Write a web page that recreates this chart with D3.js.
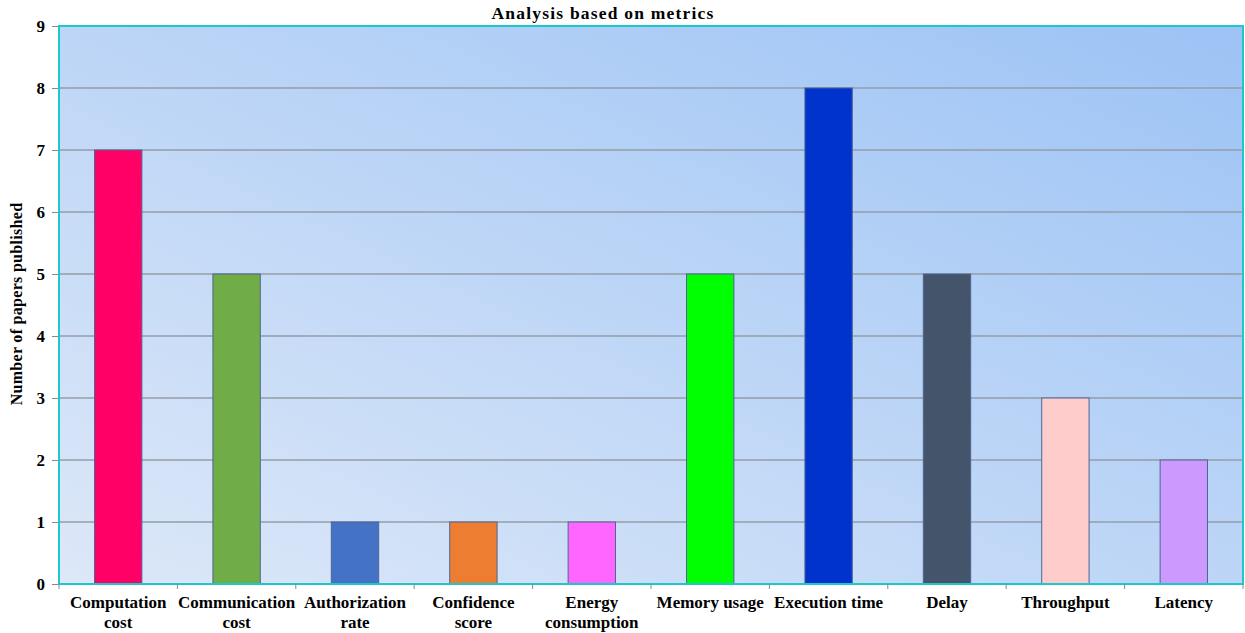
<!DOCTYPE html>
<html lang="en">
<head>
<meta charset="UTF-8" />
<title>Analysis based on metrics</title>
<script src="https://d3js.org/d3.v7.min.js"></script>
<style>
  body { margin: 0; background: #fff; }
  text { font-family: "Liberation Serif", "Times New Roman", serif; font-weight: bold; fill: #000; }
</style>
</head>
<body>
<script>
var categories = [["Computation", "cost"], ["Communication", "cost"], ["Authorization", "rate"],
  ["Confidence", "score"], ["Energy", "consumption"], ["Memory usage"], ["Execution time"],
  ["Delay"], ["Throughput"], ["Latency"]];
var papers = [7, 5, 1, 1, 1, 5, 8, 5, 3, 2];
var barColors = ["#ff0066", "#70ad47", "#4472c4", "#ed7d31", "#ff66ff", "#00ff00",
  "#0033cc", "#44546a", "#ffcccc", "#cc99ff"];
var yTicks = [0, 1, 2, 3, 4, 5, 6, 7, 8, 9];

var W = 1245, H = 633;
var pL = 59, pR = 1243, pT = 26, pB = 584;

var svg = d3.select("body").append("svg").attr("width", W).attr("height", H);

var defs = svg.append("defs");
var grad = defs.append("linearGradient").attr("id", "bg")
  .attr("x1", "0%").attr("y1", "100%").attr("x2", "100%").attr("y2", "0%");
grad.append("stop").attr("offset", "0%").attr("stop-color", "#dde8f8");
grad.append("stop").attr("offset", "100%").attr("stop-color", "#9cc3f5");

var xb = d3.scaleBand().domain(d3.range(categories.length)).range([pL, pR]);
var y = d3.scaleLinear().domain([0, 9]).range([pB, pT]);

svg.append("rect").attr("x", pL).attr("y", pT).attr("width", pR - pL).attr("height", pB - pT)
  .attr("fill", "url(#bg)");

// gridlines
svg.append("g").selectAll("line").data(yTicks.filter(function(d){ return d > 0 && d < 9; })).enter()
  .append("line").attr("x1", pL).attr("x2", pR)
  .attr("y1", function(d){ return y(d); }).attr("y2", function(d){ return y(d); })
  .attr("stroke", "#959ca8").attr("stroke-width", 1.5);

// bars
svg.append("g").selectAll("rect").data(papers).enter().append("rect")
  .attr("x", function(d, i){ return xb(i) + xb.bandwidth() * 0.3; })
  .attr("width", xb.bandwidth() * 0.4)
  .attr("y", function(d){ return y(d); })
  .attr("height", function(d){ return pB - y(d); })
  .attr("fill", function(d, i){ return barColors[i]; })
  .attr("stroke", "#4d6595").attr("stroke-width", 1);

// border
svg.append("rect").attr("x", pL).attr("y", pT).attr("width", pR - pL).attr("height", pB - pT)
  .attr("fill", "none").attr("stroke", "#1cc8cc").attr("stroke-width", 2);

// y axis
var yAxis = svg.append("g").attr("transform", "translate(" + (pL - 1) + ",0)")
  .call(d3.axisLeft(y).tickValues(yTicks).tickFormat(d3.format("d")).tickSize(6).tickPadding(7));
yAxis.select(".domain").remove();
yAxis.selectAll(".tick line").attr("stroke", "#888");
yAxis.selectAll("text").style("font-size", "17px").style("font-family", "Liberation Serif").style("font-weight", "bold");

// x axis ticks at band boundaries
var xTicks = d3.range(categories.length + 1).map(function(i){ return pL + i * xb.step(); });
svg.append("g").selectAll("line").data(xTicks).enter().append("line")
  .attr("x1", function(d){ return d; }).attr("x2", function(d){ return d; })
  .attr("y1", pB).attr("y2", pB + 5).attr("stroke", "#888");

// x labels
var xl = svg.append("g").selectAll("text").data(categories).enter().append("text")
  .attr("text-anchor", "middle").style("font-size", "17px")
  .attr("transform", function(d, i){ return "translate(" + (xb(i) + xb.bandwidth() / 2) + ",608)"; });
xl.selectAll("tspan").data(function(d){ return d; }).enter().append("tspan")
  .attr("x", 0).attr("dy", function(d, j){ return j === 0 ? 0 : 20; })
  .text(function(d){ return d; });

// title
svg.append("text").attr("x", 603).attr("y", 19).attr("text-anchor", "middle")
  .style("font-size", "17.5px").style("letter-spacing", "1.2px").text("Analysis based on metrics");

// y title
svg.append("text").attr("transform", "translate(22," + ((pT + pB) / 2 - 1) + ") rotate(-90)")
  .attr("text-anchor", "middle").style("font-size", "16px").style("letter-spacing", "0.3px")
  .text("Number of papers published");
</script>
</body>
</html>
